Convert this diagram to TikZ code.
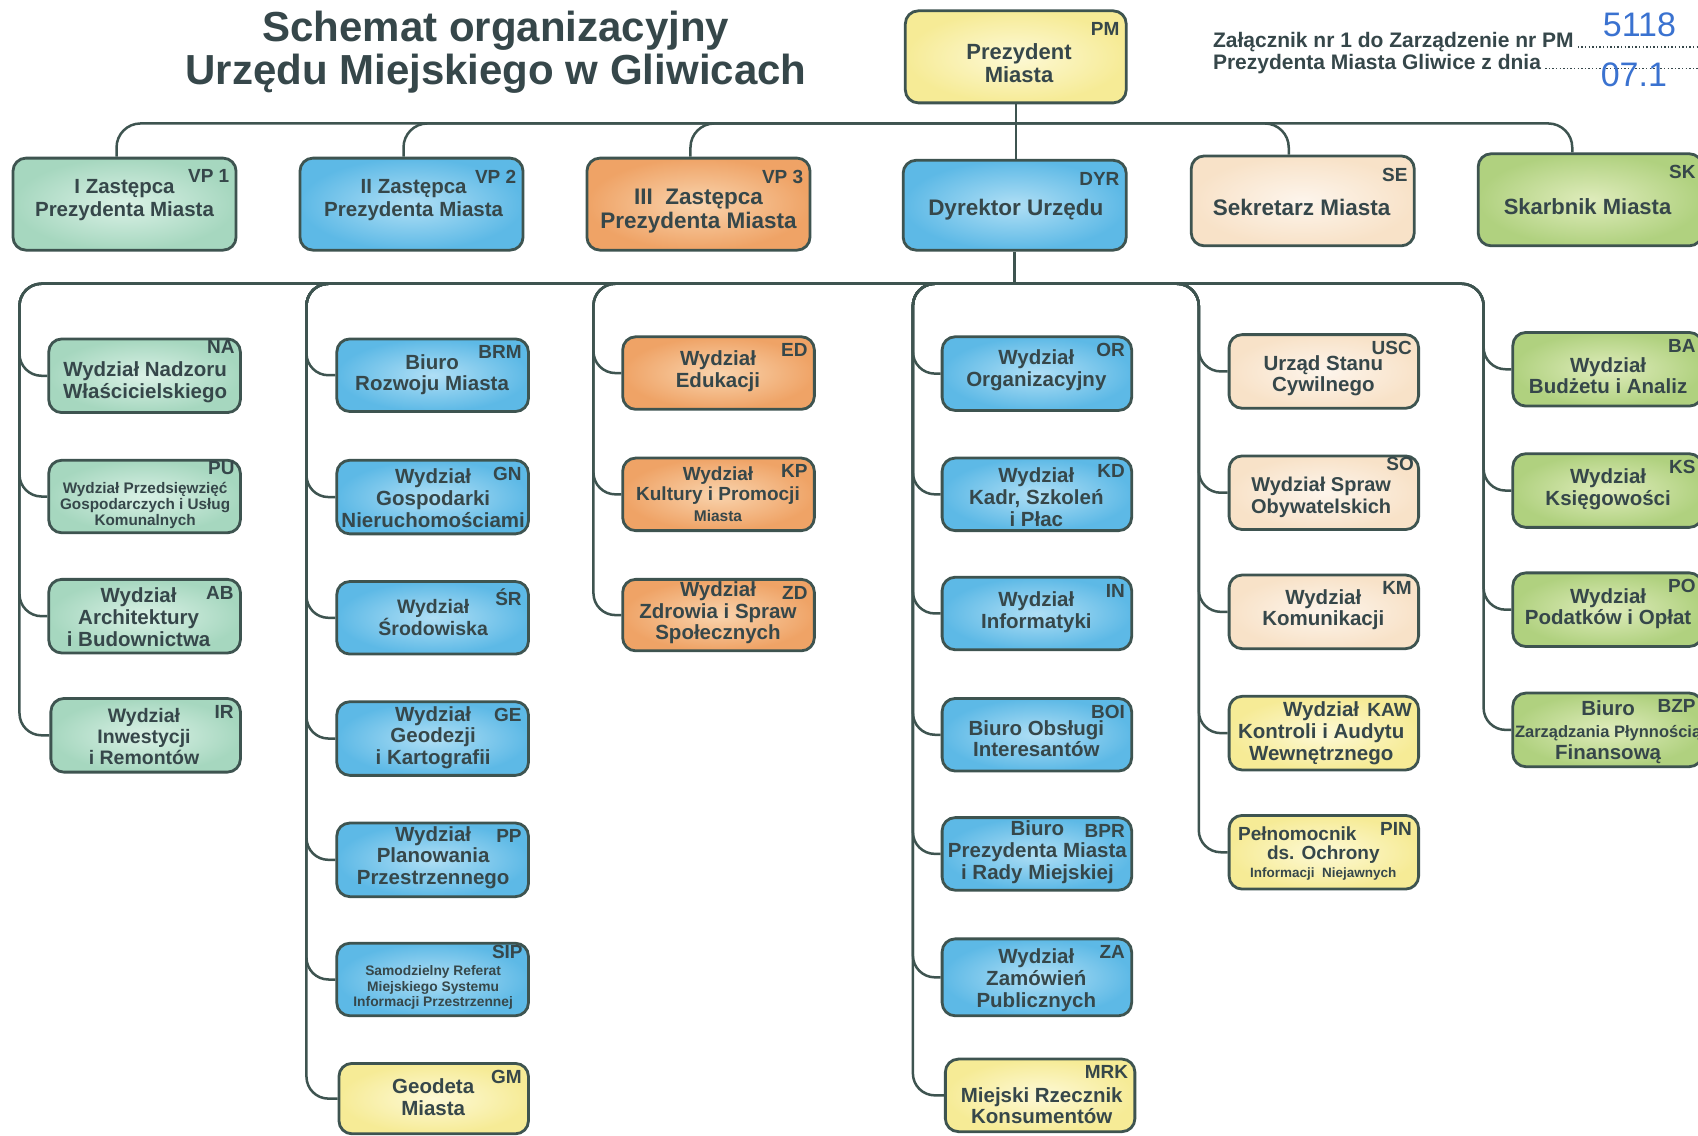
\documentclass[tikz,border=0pt]{standalone}
\usepackage{fontspec}
\setmainfont{Liberation Sans}
\usetikzlibrary{fit}
\definecolor{edge}{HTML}{3E5450}
\definecolor{txtc}{HTML}{36474A}
\definecolor{tealO}{HTML}{A6D7BF}\definecolor{tealI}{HTML}{DAF1E6}
\definecolor{blueO}{HTML}{5DB9E6}\definecolor{blueI}{HTML}{B0DFF5}
\definecolor{orO}{HTML}{EFA366}\definecolor{orI}{HTML}{F9D4AE}
\definecolor{crO}{HTML}{F8E2C8}\definecolor{crI}{HTML}{FDF5EC}
\definecolor{grO}{HTML}{B0D17F}\definecolor{grI}{HTML}{DFECBC}
\definecolor{yeO}{HTML}{F6EB96}\definecolor{yeI}{HTML}{FDF9D6}
\definecolor{handc}{HTML}{3A72D0}
\newcommand\smallf{\fontsize{15.5}{16}\selectfont}
\tikzset{
  ubox/.style={draw=edge, line width=2.8pt, rounded corners=13pt, inner sep=0pt},
  fteal/.style={inner color=tealI, outer color=tealO},
  fblue/.style={inner color=blueI, outer color=blueO},
  forange/.style={inner color=orI, outer color=orO},
  fcream/.style={inner color=crI, outer color=crO},
  fgreen/.style={inner color=grI, outer color=grO},
  fyellow/.style={inner color=yeI, outer color=yeO},
  ucode/.style={anchor=north east, inner sep=0pt, text=txtc, font=\fontsize{19}{20}\selectfont\bfseries},
  codeshift/.style={xshift=-8pt, yshift=-13pt},
  fnt/.style 2 args={font=\fontsize{#1}{#2}\selectfont\bfseries},
  utext/.style={align=center, inner sep=0pt, text=txtc, fnt={20.5}{21.7}},
  conn/.style={draw=edge, line width=2.5pt, rounded corners=22pt},
  title/.style={inner sep=0pt, text=txtc, font=\fontsize{42}{44}\selectfont\bfseries},
  ann/.style={inner sep=0pt, text=txtc, font=\fontsize{21}{22}\selectfont\bfseries},
  hand/.style={inner sep=0pt, text=handc, font=\fontsize{34}{36}\selectfont},
  dots/.style={draw=txtc, line width=1.4pt, dash pattern=on 1.3pt off 2.3pt}
}
% [text style] name, fill style, corners, code, text pos, text
\newcommand\ubox[7][]{%
  \node[ubox,#3,fit={#4}] (#2) {};
  \node[ucode,codeshift] (#2-c) at (#2.north east) {#5};
  \node[utext,#1] (#2-t) at (#6) {#7};
}
\begin{document}
\begin{tikzpicture}[x=1.0829pt, y=-1.0829pt]
\useasboundingbox (0,0) rectangle (1568,1049);
\fill[white] (0,0) rectangle (1568,1049);
\clip (0,0) rectangle (1568,1049);

% titles
\node[title, anchor=base] (T1) at (458,38) {Schemat organizacyjny};
\node[title, anchor=base] (T2) at (458,78) {Urzędu Miejskiego w Gliwicach};
\node[ann, anchor=base west] (A1) at (1120,44) {Załącznik nr 1 do Zarządzenie nr PM};
\node[ann, anchor=base west] (A2) at (1120,64) {Prezydenta Miasta Gliwice z dnia};
\coordinate (de) at (1575,0);
\draw[dots] ([xshift=4pt,yshift=0.7pt]A1.base east) -- ([yshift=0.7pt]A1.base east -| de);
\draw[dots] ([xshift=4pt,yshift=0.7pt]A2.base east) -- ([yshift=0.7pt]A2.base east -| de);
\node[hand, anchor=base west] (H1) at (1480,34) {5118};
\node[hand, anchor=base west] (H2) at (1478,80) {07.1};

% top level
\ubox[fnt={22}{22.7}]{PM}{fyellow}{(836,10)(1040,95)}{PM}{941,58}{Prezydent\\Miasta}
\ubox[fnt={20.5}{22.7}]{VP1}{fteal}{(12,146)(218,231)}{VP 1}{115,185}{I Zastępca\\Prezydenta Miasta}
\ubox[fnt={20.5}{22.7}]{VP2}{fblue}{(277,146)(483,231)}{VP 2}{382,185}{II\ Zastępca\\Prezydenta Miasta}
\ubox[fnt={22.5}{23.5}]{VP3}{forange}{(542,146)(748,231)}{VP 3}{645,195}{III\ \ Zastępca\\Prezydenta Miasta}
\ubox[fnt={22.5}{23}]{DYR}{fblue}{(834,148)(1040,231)}{DYR}{938,194}{Dyrektor Urzędu}
\ubox[fnt={22.5}{23}]{SE}{fcream}{(1100,144)(1306,227)}{SE}{1202,192}{Sekretarz Miasta}
\ubox[fnt={22}{23}]{SK}{fgreen}{(1365,142)(1572,227)}{SK}{1466,191}{Skarbnik Miasta}

\tikzset{codeshift/.style={xshift=-8pt, yshift=-8pt}}
% column 1
\begin{scope}[codeshift/.style={xshift=-7pt, yshift=-2.5pt}]
\ubox{NA}{fteal}{(45,313)(222,381)}{NA}{134,353}{Wydział Nadzoru\\Właścicielskiego}
\ubox[fnt={15.3}{16}]{PU}{fteal}{(45,425)(222,492)}{PU}{134,467}{Wydział Przedsięwzięć\\Gospodarczych i Usług\\Komunalnych}
\end{scope}
\ubox{AB}{fteal}{(45,535)(222,603)}{AB}{128,570}{Wydział\\Architektury\\i Budownictwa}
\ubox[fnt={19.5}{21.2}]{IR}{fteal}{(47,645)(222,713)}{IR}{133,680}{Wydział\\Inwestycji\\i Remontów}
% column 2
\ubox{BRM}{fblue}{(311,313)(488,380)}{BRM}{399,346}{Biuro\\Rozwoju Miasta}
\ubox{GN}{fblue}{(311,425)(488,493)}{GN}{400,460}{Wydział\\Gospodarki\\Nieruchomościami}
\ubox[fnt={19.5}{21.7}]{SR}{fblue}{(311,537)(488,604)}{ŚR}{400,570}{Wydział\\Środowiska}
\ubox{GE}{fblue}{(311,648)(488,716)}{GE}{400,681}{Wydział\\Geodezji\\i Kartografii}
\ubox{PP}{fblue}{(311,760)(488,828)}{PP}{400,792}{Wydział\\Planowania\\Przestrzennego}
\begin{scope}[codeshift/.style={xshift=-7pt, yshift=-3pt}]
\ubox[fnt={13.8}{15.2}]{SIP}{fblue}{(311,871)(488,938)}{SIP}{400,912}{Samodzielny Referat\\Miejskiego Systemu\\Informacji Przestrzennej}
\end{scope}
\ubox{GM}{fyellow}{(313,982)(488,1047)}{GM}{400,1013}{Geodeta\\Miasta}
% column 3
\ubox{ED}{forange}{(575,311)(752,378)}{ED}{663,343}{Wydział\\Edukacji}
\ubox[fnt={19}{20.5}]{KP}{forange}{(575,423)(752,490)}{KP}{663,456}{Wydział\\Kultury i Promocji\\{\smallf Miasta}}
\ubox{ZD}{forange}{(575,535)(752,601)}{ZD}{663,566}{Wydział\\Zdrowia i Spraw\\Społecznych}
% column 4
\ubox{OR}{fblue}{(870,311)(1045,379)}{OR}{957,342}{Wydział\\Organizacyjny}
\ubox{KD}{fblue}{(870,423)(1045,490)}{KD}{957,459}{Wydział\\Kadr, Szkoleń\\i Płac}
\ubox{IN}{fblue}{(870,533)(1045,600)}{IN}{957,565}{Wydział\\Informatyki}
\ubox{BOI}{fblue}{(870,645)(1045,712)}{BOI}{957,682}{Biuro Obsługi\\Interesantów}
\ubox{BPR}{fblue}{(870,755)(1045,822)}{BPR}{958,787}{Biuro\\Prezydenta Miasta\\i Rady Miejskiej}
\ubox{ZA}{fblue}{(870,867)(1045,938)}{ZA}{957,905}{Wydział\\Zamówień\\Publicznych}
\ubox{MRK}{fyellow}{(873,978)(1048,1045)}{MRK}{962,1021}{Miejski Rzecznik\\Konsumentów}
% column 5
\ubox{USC}{fcream}{(1135,309)(1310,377)}{USC}{1222,347}{Urząd Stanu\\Cywilnego}
\begin{scope}[codeshift/.style={xshift=-6pt, yshift=-2.5pt}]
\ubox[fnt={20}{21.7}]{SO}{fcream}{(1135,421)(1310,489)}{SO}{1220,459}{Wydział Spraw\\Obywatelskich}
\end{scope}
\ubox{KM}{fcream}{(1135,531)(1310,599)}{KM}{1222,563}{Wydział\\Komunikacji}
\ubox{KAW}{fyellow}{(1135,643)(1310,711)}{KAW}{1220,677}{Wydział\\Kontroli i Audytu\\Wewnętrznego}
\ubox[fnt={19}{20}]{PIN}{fyellow}{(1135,753)(1310,821)}{PIN}{1222,789}{ds. Ochrony}
\node[utext, fnt={19}{20}] (PIN-t2) at (1198,770) {Pełnomocnik};
\node[utext, fnt={13.5}{14}] (PIN-t3) at (1222,807) {Informacji\ \ Niejawnych};
% column 6
\ubox{BA}{fgreen}{(1397,307)(1572,375)}{BA}{1485,347}{Wydział\\Budżetu i Analiz}
\ubox{KS}{fgreen}{(1397,419)(1572,487)}{KS}{1485,452}{Wydział\\Księgowości}
\ubox{PO}{fgreen}{(1397,529)(1572,597)}{PO}{1485,562}{Wydział\\Podatków i Opłat}
\ubox{BZP}{fgreen}{(1397,640)(1572,708)}{BZP}{1485,676}{Biuro\\{\fontsize{16.5}{17}\selectfont Zarządzania Płynnością}\\Finansową}

% connectors: president level
\coordinate (b1) at (938,114);
\draw[conn] (PM.south) -- (PM.south |- DYR.north);
\draw[conn, rounded corners=24pt] (b1) -| ([xshift=-8pt]VP1.north);
\draw[conn, rounded corners=24pt] (b1) -| ([xshift=-8pt]VP2.north);
\draw[conn, rounded corners=24pt] (b1) -| ([xshift=-8pt]VP3.north);
\draw[conn, rounded corners=24pt] (b1) -| ([xshift=-14pt]SE.north);
\draw[conn, rounded corners=24pt] (b1) -| ([xshift=-18pt]SK.north);

% connectors: director level
\coordinate (b2) at (937,262);
\draw[conn] (DYR.south) -- (b2);
\coordinate (c1) at (18,262);
\coordinate (c2) at (283,262);
\coordinate (c3) at (548,262);
\coordinate (c4) at (843,262);
\coordinate (c5) at (1107,262);
\coordinate (c6) at (1370,262);
\foreach \n in {NA,PU,AB,IR} \draw[conn] (b2) -| (c1 |- \n.west) -- (\n.west);
\foreach \n in {BRM,GN,SR,GE,PP,SIP,GM} \draw[conn] (b2) -| (c2 |- \n.west) -- (\n.west);
\foreach \n in {ED,KP,ZD} \draw[conn] (b2) -| (c3 |- \n.west) -- (\n.west);
\foreach \n in {OR,KD,IN,BOI,BPR,ZA,MRK} \draw[conn] (b2) -| (c4 |- \n.west) -- (\n.west);
\foreach \n in {USC,SO,KM,KAW,PIN} \draw[conn] (b2) -| (c5 |- \n.west) -- (\n.west);
\foreach \n in {BA,KS,PO,BZP} \draw[conn] (b2) -| (c6 |- \n.west) -- (\n.west);
\end{tikzpicture}
\end{document}
